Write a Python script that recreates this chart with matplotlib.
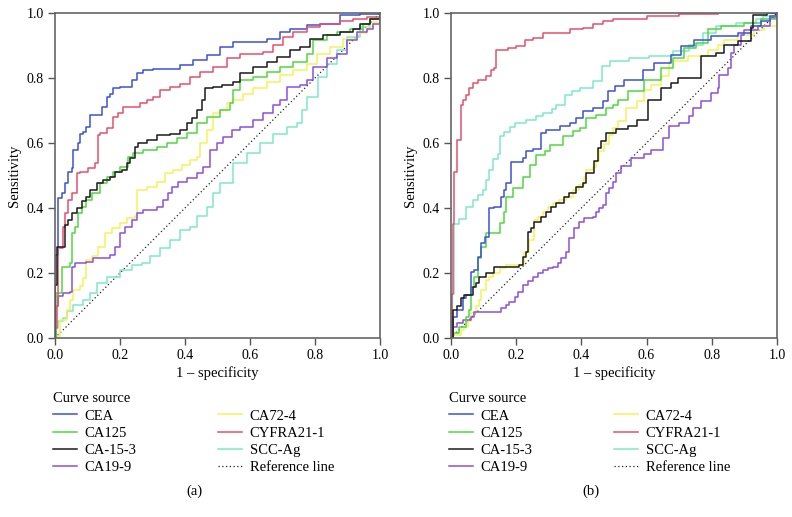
import matplotlib
matplotlib.use("Agg")
import matplotlib.pyplot as plt
from matplotlib.lines import Line2D

plt.rcParams['font.family'] = ['Liberation Serif', 'DejaVu Serif']

# ---- panel (a) ----
a_cea_x = [0, 0, 0.01, 0.021, 0.031, 0.041, 0.051, 0.056, 0.072, 0.077, 0.087, 0.097, 0.108, 0.144, 0.159, 0.169, 0.18, 0.2, 0.236, 0.251, 0.272, 0.303, 0.385, 0.426, 0.467, 0.508, 0.549, 0.651, 0.692, 0.723, 0.774, 0.815, 0.877, 0.938, 1.0]
a_cea_y = [0, 0.256, 0.43, 0.445, 0.476, 0.512, 0.522, 0.578, 0.599, 0.629, 0.635, 0.65, 0.686, 0.711, 0.742, 0.752, 0.768, 0.773, 0.793, 0.814, 0.824, 0.829, 0.839, 0.855, 0.87, 0.896, 0.911, 0.921, 0.942, 0.952, 0.962, 0.967, 0.993, 0.996, 1.0]

a_ca125_x = [0, 0.003, 0.021, 0.046, 0.051, 0.062, 0.072, 0.082, 0.097, 0.113, 0.138, 0.159, 0.18, 0.2, 0.226, 0.241, 0.272, 0.313, 0.344, 0.374, 0.405, 0.436, 0.467, 0.508, 0.538, 0.549, 0.569, 0.61, 0.651, 0.692, 0.733, 0.774, 0.795, 0.836, 0.867, 0.908, 0.949, 0.969, 1.0]
a_ca125_y = [0, 0.138, 0.22, 0.23, 0.322, 0.343, 0.384, 0.404, 0.425, 0.445, 0.476, 0.496, 0.512, 0.527, 0.558, 0.568, 0.578, 0.589, 0.599, 0.614, 0.63, 0.66, 0.681, 0.701, 0.722, 0.763, 0.793, 0.803, 0.819, 0.834, 0.85, 0.875, 0.916, 0.931, 0.942, 0.952, 0.967, 0.983, 1.0]

a_ca153_x = [0, 0, 0.007, 0.031, 0.041, 0.051, 0.067, 0.082, 0.097, 0.108, 0.128, 0.149, 0.169, 0.185, 0.205, 0.221, 0.231, 0.246, 0.256, 0.282, 0.313, 0.354, 0.385, 0.405, 0.421, 0.436, 0.451, 0.462, 0.487, 0.513, 0.549, 0.569, 0.61, 0.651, 0.682, 0.723, 0.754, 0.785, 0.826, 0.877, 0.918, 0.938, 0.969, 1.0]
a_ca153_y = [0, 0.164, 0.28, 0.348, 0.363, 0.384, 0.399, 0.42, 0.435, 0.455, 0.476, 0.486, 0.496, 0.512, 0.517, 0.537, 0.553, 0.589, 0.599, 0.609, 0.624, 0.629, 0.64, 0.66, 0.676, 0.701, 0.732, 0.768, 0.773, 0.778, 0.788, 0.814, 0.834, 0.85, 0.865, 0.885, 0.896, 0.921, 0.931, 0.942, 0.952, 0.967, 0.983, 1.0]

a_ca199_x = [0, 0.003, 0.01, 0.026, 0.046, 0.051, 0.062, 0.097, 0.118, 0.169, 0.185, 0.2, 0.215, 0.236, 0.251, 0.272, 0.313, 0.333, 0.349, 0.359, 0.379, 0.405, 0.436, 0.456, 0.477, 0.497, 0.518, 0.544, 0.569, 0.61, 0.641, 0.672, 0.692, 0.713, 0.754, 0.774, 0.795, 0.836, 0.867, 0.897, 0.928, 0.959, 0.979, 1.0]
a_ca199_y = [0, 0.097, 0.128, 0.138, 0.143, 0.22, 0.23, 0.235, 0.246, 0.256, 0.281, 0.322, 0.343, 0.363, 0.384, 0.394, 0.404, 0.425, 0.445, 0.466, 0.481, 0.491, 0.507, 0.527, 0.578, 0.599, 0.619, 0.64, 0.65, 0.67, 0.691, 0.716, 0.732, 0.773, 0.778, 0.793, 0.834, 0.86, 0.875, 0.916, 0.942, 0.952, 0.967, 1.0]

a_ca724_x = [0, 0.005, 0.015, 0.036, 0.046, 0.056, 0.077, 0.087, 0.097, 0.113, 0.133, 0.154, 0.174, 0.2, 0.221, 0.246, 0.251, 0.282, 0.313, 0.338, 0.364, 0.39, 0.415, 0.436, 0.446, 0.467, 0.487, 0.508, 0.528, 0.549, 0.579, 0.61, 0.651, 0.692, 0.733, 0.774, 0.805, 0.846, 0.887, 0.928, 0.959, 0.979, 1.0]
a_ca724_y = [0, 0.005, 0.056, 0.087, 0.118, 0.148, 0.159, 0.184, 0.241, 0.251, 0.281, 0.322, 0.338, 0.353, 0.368, 0.374, 0.455, 0.466, 0.481, 0.507, 0.517, 0.532, 0.548, 0.558, 0.599, 0.64, 0.691, 0.701, 0.722, 0.732, 0.752, 0.768, 0.788, 0.809, 0.824, 0.844, 0.875, 0.896, 0.921, 0.937, 0.957, 0.973, 1.0]

a_cyfra_x = [0, 0, 0.005, 0.01, 0.026, 0.031, 0.041, 0.051, 0.067, 0.077, 0.103, 0.123, 0.133, 0.138, 0.159, 0.18, 0.195, 0.21, 0.262, 0.282, 0.303, 0.323, 0.354, 0.385, 0.415, 0.446, 0.487, 0.528, 0.569, 0.641, 0.672, 0.703, 0.733, 0.774, 0.815, 0.877, 0.918, 0.959, 1.0]
a_cyfra_y = [0, 0.03, 0.1, 0.276, 0.343, 0.384, 0.425, 0.445, 0.507, 0.512, 0.522, 0.537, 0.624, 0.63, 0.645, 0.681, 0.691, 0.711, 0.722, 0.732, 0.742, 0.763, 0.773, 0.783, 0.803, 0.819, 0.834, 0.86, 0.875, 0.88, 0.9, 0.926, 0.942, 0.957, 0.967, 0.975, 0.983, 0.988, 1.0]

a_scc_x = [0, 0, 0.01, 0.026, 0.036, 0.056, 0.087, 0.108, 0.128, 0.159, 0.2, 0.236, 0.267, 0.292, 0.323, 0.354, 0.385, 0.415, 0.436, 0.467, 0.487, 0.508, 0.549, 0.59, 0.631, 0.672, 0.713, 0.744, 0.759, 0.774, 0.81, 0.836, 0.867, 0.897, 0.938, 0.969, 1.0]
a_scc_y = [0, 0.03, 0.051, 0.061, 0.082, 0.102, 0.118, 0.138, 0.169, 0.189, 0.21, 0.225, 0.23, 0.251, 0.276, 0.302, 0.333, 0.343, 0.374, 0.404, 0.445, 0.476, 0.537, 0.568, 0.599, 0.629, 0.65, 0.66, 0.701, 0.742, 0.803, 0.844, 0.885, 0.926, 0.957, 0.983, 1.0]

# ---- panel (b) ----
b_cea_x = [0, 0.005, 0.02, 0.036, 0.046, 0.062, 0.072, 0.082, 0.092, 0.103, 0.118, 0.133, 0.154, 0.164, 0.169, 0.185, 0.221, 0.231, 0.251, 0.277, 0.292, 0.333, 0.364, 0.385, 0.405, 0.436, 0.467, 0.482, 0.503, 0.532, 0.588, 0.624, 0.675, 0.706, 0.746, 0.798, 0.879, 0.92, 0.951, 0.98, 1.0]
b_cea_y = [0, 0.066, 0.086, 0.122, 0.132, 0.204, 0.21, 0.25, 0.291, 0.312, 0.399, 0.404, 0.435, 0.455, 0.476, 0.543, 0.554, 0.575, 0.58, 0.631, 0.641, 0.651, 0.662, 0.677, 0.697, 0.708, 0.728, 0.759, 0.774, 0.795, 0.826, 0.846, 0.872, 0.898, 0.918, 0.928, 0.938, 0.959, 0.974, 0.99, 1.0]

b_ca125_x = [0, 0.005, 0.026, 0.046, 0.056, 0.062, 0.072, 0.082, 0.092, 0.108, 0.149, 0.164, 0.169, 0.19, 0.22, 0.241, 0.261, 0.287, 0.303, 0.343, 0.374, 0.395, 0.415, 0.446, 0.475, 0.497, 0.511, 0.542, 0.593, 0.644, 0.68, 0.716, 0.752, 0.787, 0.828, 0.9, 0.951, 1.0]
b_ca125_y = [0, 0.014, 0.035, 0.066, 0.086, 0.158, 0.189, 0.245, 0.281, 0.322, 0.353, 0.389, 0.435, 0.46, 0.496, 0.533, 0.564, 0.575, 0.595, 0.62, 0.636, 0.646, 0.677, 0.687, 0.708, 0.718, 0.733, 0.759, 0.795, 0.831, 0.862, 0.892, 0.908, 0.95, 0.959, 0.969, 0.98, 1.0]

b_ca153_x = [0, 0.005, 0.02, 0.031, 0.041, 0.067, 0.077, 0.087, 0.108, 0.133, 0.21, 0.22, 0.23, 0.235, 0.245, 0.256, 0.276, 0.292, 0.307, 0.322, 0.348, 0.363, 0.384, 0.404, 0.414, 0.44, 0.45, 0.46, 0.475, 0.506, 0.542, 0.572, 0.603, 0.644, 0.675, 0.695, 0.767, 0.813, 0.838, 0.879, 0.92, 0.925, 0.97, 1.0]
b_ca153_y = [0, 0.086, 0.1, 0.122, 0.132, 0.158, 0.168, 0.189, 0.199, 0.219, 0.225, 0.25, 0.265, 0.327, 0.338, 0.358, 0.373, 0.389, 0.404, 0.414, 0.435, 0.445, 0.466, 0.476, 0.507, 0.545, 0.586, 0.606, 0.632, 0.642, 0.651, 0.672, 0.733, 0.769, 0.785, 0.8, 0.867, 0.877, 0.902, 0.913, 0.954, 0.995, 1.0, 1.0]

b_ca199_x = [0, 0.005, 0.02, 0.036, 0.062, 0.072, 0.138, 0.154, 0.169, 0.179, 0.195, 0.205, 0.22, 0.236, 0.251, 0.266, 0.282, 0.297, 0.312, 0.327, 0.337, 0.353, 0.363, 0.378, 0.394, 0.409, 0.435, 0.445, 0.455, 0.466, 0.475, 0.486, 0.496, 0.506, 0.521, 0.552, 0.593, 0.613, 0.649, 0.67, 0.7, 0.731, 0.741, 0.767, 0.798, 0.818, 0.823, 0.849, 0.859, 0.869, 0.89, 0.9, 0.941, 0.98, 1.0]
b_ca199_y = [0, 0.035, 0.045, 0.056, 0.066, 0.081, 0.081, 0.092, 0.102, 0.112, 0.127, 0.143, 0.163, 0.174, 0.189, 0.199, 0.209, 0.214, 0.219, 0.23, 0.245, 0.265, 0.307, 0.337, 0.358, 0.368, 0.373, 0.389, 0.399, 0.409, 0.445, 0.461, 0.481, 0.507, 0.528, 0.554, 0.565, 0.579, 0.615, 0.651, 0.662, 0.682, 0.708, 0.728, 0.754, 0.769, 0.81, 0.831, 0.877, 0.902, 0.933, 0.949, 0.959, 0.985, 1.0]

b_ca724_x = [0, 0.005, 0.031, 0.041, 0.052, 0.062, 0.077, 0.087, 0.092, 0.108, 0.118, 0.128, 0.149, 0.169, 0.225, 0.24, 0.256, 0.266, 0.281, 0.297, 0.312, 0.332, 0.353, 0.373, 0.394, 0.409, 0.414, 0.435, 0.445, 0.455, 0.47, 0.486, 0.496, 0.511, 0.537, 0.572, 0.593, 0.613, 0.644, 0.67, 0.726, 0.787, 0.818, 0.838, 0.879, 0.93, 0.961, 1.0, 1.0]
b_ca724_y = [0, 0.01, 0.025, 0.035, 0.051, 0.076, 0.097, 0.117, 0.148, 0.178, 0.189, 0.199, 0.214, 0.225, 0.265, 0.302, 0.363, 0.373, 0.389, 0.404, 0.414, 0.425, 0.435, 0.455, 0.471, 0.496, 0.517, 0.525, 0.545, 0.575, 0.596, 0.626, 0.647, 0.667, 0.708, 0.728, 0.764, 0.779, 0.805, 0.851, 0.867, 0.887, 0.902, 0.918, 0.933, 0.949, 0.959, 0.974, 1.0]

b_cyfra_x = [0, 0.002, 0.005, 0.01, 0.02, 0.03, 0.036, 0.046, 0.056, 0.067, 0.082, 0.108, 0.123, 0.133, 0.138, 0.174, 0.2, 0.226, 0.251, 0.282, 0.364, 0.405, 0.436, 0.467, 0.497, 0.6, 0.7, 0.82]
b_cyfra_y = [0, 0.135, 0.35, 0.512, 0.61, 0.718, 0.733, 0.749, 0.77, 0.785, 0.795, 0.805, 0.826, 0.831, 0.887, 0.892, 0.898, 0.918, 0.923, 0.939, 0.95, 0.955, 0.965, 0.975, 0.98, 0.99, 0.997, 0.997]

b_scc_x = [0, 0.003, 0.01, 0.026, 0.046, 0.067, 0.082, 0.097, 0.108, 0.118, 0.13, 0.143, 0.149, 0.164, 0.18, 0.195, 0.231, 0.26, 0.282, 0.31, 0.323, 0.349, 0.37, 0.395, 0.436, 0.462, 0.487, 0.547, 0.608, 0.68, 0.731, 0.772, 0.813, 0.874, 0.936, 0.956, 1.0]
b_scc_y = [0, 0.135, 0.35, 0.365, 0.404, 0.425, 0.44, 0.455, 0.486, 0.517, 0.55, 0.565, 0.62, 0.635, 0.65, 0.662, 0.672, 0.682, 0.692, 0.705, 0.718, 0.749, 0.76, 0.769, 0.79, 0.836, 0.851, 0.86, 0.867, 0.882, 0.903, 0.939, 0.959, 0.969, 0.98, 0.99, 1.0]

names = ["CEA", "CA125", "CA-15-3", "CA19-9", "CA72-4", "CYFRA21-1", "SCC-Ag"]
colors = ["#3b52d8", "#50d840", "#1a1a1a", "#8c4fe0", "#f2f25a", "#e4506c", "#7de8c8"]

panel_a = [(a_cea_x, a_cea_y), (a_ca125_x, a_ca125_y), (a_ca153_x, a_ca153_y), (a_ca199_x, a_ca199_y),
           (a_ca724_x, a_ca724_y), (a_cyfra_x, a_cyfra_y), (a_scc_x, a_scc_y)]
panel_b = [(b_cea_x, b_cea_y), (b_ca125_x, b_ca125_y), (b_ca153_x, b_ca153_y), (b_ca199_x, b_ca199_y),
           (b_ca724_x, b_ca724_y), (b_cyfra_x, b_cyfra_y), (b_scc_x, b_scc_y)]

fig = plt.figure(figsize=(7.92, 5.17), dpi=100)
ax_a = fig.add_axes([0.0694, 0.3462, 0.4104, 0.6287])
ax_b = fig.add_axes([0.5694, 0.3462, 0.4116, 0.6287])

# draw order so that black / red sit on top as in the original
order = [6, 4, 3, 1, 0, 5, 2]

for ax, curves, tag in [(ax_a, panel_a, "(a)"), (ax_b, panel_b, "(b)")]:
    ax.plot([0, 1], [0, 1], color="#222222", lw=0.9, ls=(0, (1, 2)), zorder=1)
    for i in order:
        x, y = curves[i]
        ax.plot(x, y, color=colors[i], lw=1.1, drawstyle="steps-post", zorder=2)
    ax.set_xlim(0, 1)
    ax.set_ylim(0, 1)
    ax.set_xticks([0, 0.2, 0.4, 0.6, 0.8, 1.0])
    ax.set_yticks([0, 0.2, 0.4, 0.6, 0.8, 1.0])
    ax.set_xticklabels(["0.0", "0.2", "0.4", "0.6", "0.8", "1.0"])
    ax.set_yticklabels(["0.0", "0.2", "0.4", "0.6", "0.8", "1.0"])
    ax.tick_params(direction="out", length=5, width=1, color="#555555", labelsize=10, pad=3)
    for s in ax.spines.values():
        s.set_color("#666666")
        s.set_linewidth(1.2)
    ax.set_xlabel("1 \u2013 specificity", fontsize=10.5, labelpad=3)
    ax.set_ylabel("Sensitivity", fontsize=10.5, labelpad=4)

    handles = [Line2D([], [], color=colors[i], lw=1.1) for i in range(4)]
    handles += [Line2D([], [], color=colors[i], lw=1.1) for i in range(4, 7)]
    handles.append(Line2D([], [], color="#222222", lw=0.9, ls=(0, (1, 2))))
    labels = names + ["Reference line"]
    ax.legend(handles, labels, title="Curve source", ncol=2, loc="upper left",
              bbox_to_anchor=(-0.005, -0.167), frameon=False, fontsize=10.5,
              title_fontsize=10.5, handlelength=1.6, handletextpad=0.55,
              columnspacing=5.6, labelspacing=0.28, borderpad=0, borderaxespad=0,
              alignment="left")
    ax.text(0.43, -0.473, tag, transform=ax.transAxes, ha="center", va="center", fontsize=10.5)

fig.savefig("out.png", dpi=100)
